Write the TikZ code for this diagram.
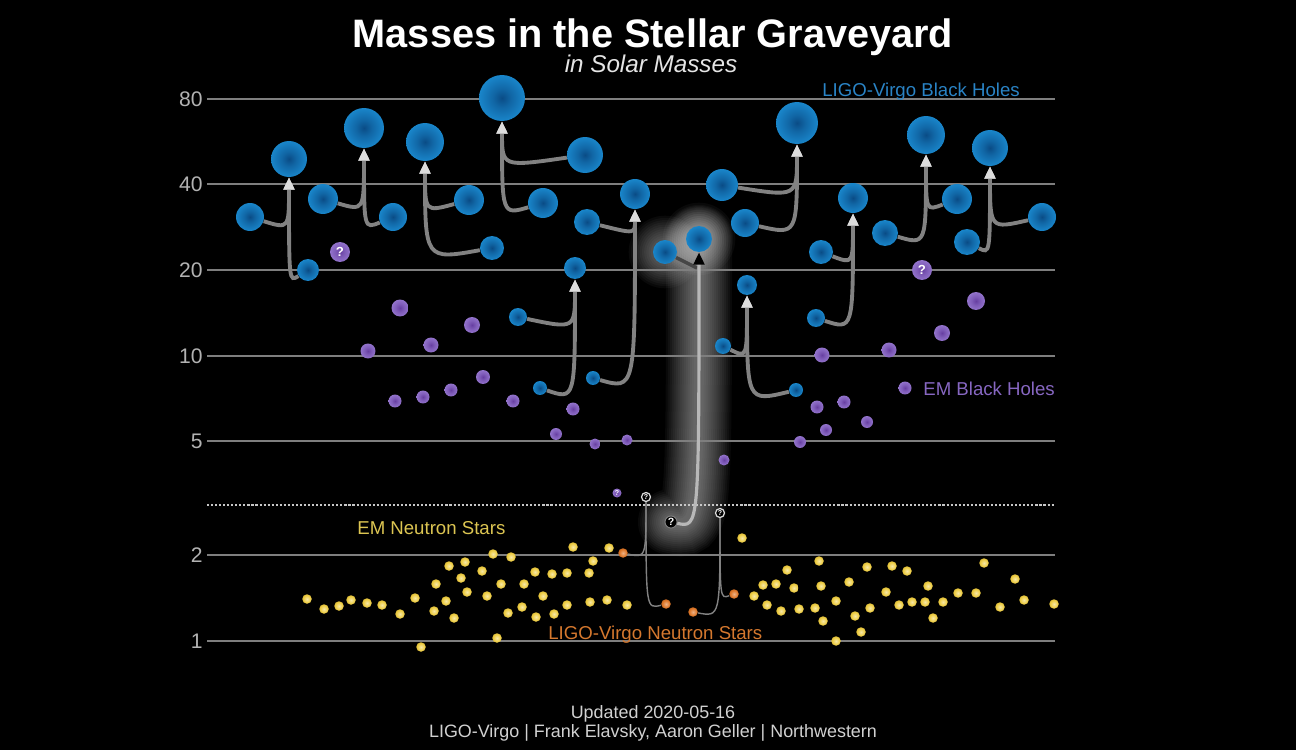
\documentclass[tikz,border=0pt]{standalone}
\usepackage{fontspec}
\setmainfont{Liberation Sans}
\usetikzlibrary{arrows.meta, calc}

\definecolor{lvblue}{HTML}{1E98E0}
\definecolor{lvcore}{HTML}{0A4C86}
\definecolor{lvtext}{HTML}{2A84C6}
\definecolor{emlilac}{HTML}{A286DA}
\definecolor{emcore}{HTML}{673FA2}
\definecolor{emtext}{HTML}{8767C2}
\definecolor{nsgold}{HTML}{EDCB3E}
\definecolor{nstext}{HTML}{DCC552}
\definecolor{nsorange}{HTML}{DD7424}
\definecolor{lvnstext}{HTML}{D5782E}
\definecolor{gridgray}{HTML}{7E7E7E}
\definecolor{trackgray}{HTML}{828282}
\definecolor{tipgray}{HTML}{DCDCDC}
\definecolor{labelgray}{HTML}{B2B2B2}

\pgfdeclareradialshading{lvshade}{\pgfpoint{0bp}{0bp}}{color(0bp)=(lvcore); color(10bp)=(lvcore!65!lvblue); color(34bp)=(lvblue); color(50bp)=(lvblue!85!white)}
\pgfdeclareradialshading{emshade}{\pgfpoint{0bp}{0bp}}{color(0bp)=(emcore); color(12bp)=(emcore!60!emlilac); color(36bp)=(emlilac); color(50bp)=(emlilac!85!white)}
\pgfdeclareradialshading{goldshade}{\pgfpoint{0bp}{0bp}}{color(0bp)=(nsgold!45!white); color(20bp)=(nsgold); color(50bp)=(nsgold!70!black)}
\pgfdeclareradialshading{orangeshade}{\pgfpoint{0bp}{0bp}}{color(0bp)=(nsorange!55!white); color(20bp)=(nsorange); color(50bp)=(nsorange!70!black)}

\pgfdeclarelayer{back}
\pgfdeclarelayer{glow}
\pgfsetlayers{back,glow,main}

\tikzset{
	lvbh/.style = {circle, inner sep = 0pt, minimum size = #1 * 0.04cm, shade, shading = lvshade},
	embh/.style = {circle, inner sep = 0pt, minimum size = #1 * 0.04cm, shade, shading = emshade},
	emns/.style = {circle, inner sep = 0pt, minimum size = 0.19cm, shade, shading = goldshade},
	lvns/.style = {circle, inner sep = 0pt, minimum size = 0.19cm, shade, shading = orangeshade},
	nsrem/.style = {circle, inner sep = 0pt, minimum size = 0.18cm, fill = black, draw = tipgray, line width = 0.7pt, text = white, font = \fontsize{4}{4}\selectfont\bfseries},
	gapobj/.style = {circle, inner sep = 0pt, minimum size = 0.24cm, fill = black, draw = gray, line width = 0.5pt, text = white, font = \fontsize{6}{6}\selectfont\bfseries},
	query/.style = {text = white, font = \fontsize{7.5}{7.5}\selectfont\bfseries},
	merge/.style = {draw = trackgray, line width = 2.2pt, -{Triangle[length = 7pt, width = 6pt, color = tipgray]}},
	glowtrack/.style = {draw = white!72!black, line width = 1.8pt, -{Triangle[length = 7pt, width = 6pt, color = black]}},
	nsmerge/.style = {draw = trackgray, line width = 0.8pt},
	scale line/.style = {draw = gridgray, line width = 1pt},
	scale label/.style = {anchor = east, inner sep = 0pt, text = labelgray, font = \fontsize{12}{12}\selectfont},
	family/.style = {anchor = base west, inner sep = 0pt, font = \fontsize{10.6}{10.6}\selectfont},
	credit/.style = {anchor = base, inner sep = 0pt, text = white!82!black, font = \fontsize{10.2}{10.2}\selectfont}
}

\begin{document}
\begin{tikzpicture}[x = 0.02cm, y = -0.02cm]

	% Definitions

	\def\dip{12}		% How far a track dips below its parent

	% Canvas

	\useasboundingbox (0, 0) rectangle (1296, 750);
	\begin{pgfonlayer}{back}
		\fill [black] (0, 0) rectangle (1296, 750);
	\end{pgfonlayer}

	% Title

	\node [anchor = base, inner sep = 0pt, text = white, font = \fontsize{22.6}{22.6}\selectfont\bfseries] (title) at (653, 48) {Masses in the Stellar Graveyard};
	\node [anchor = base, inner sep = 0pt, text = white!90!black, font = \fontsize{13.8}{13.8}\selectfont\itshape] (subtitle) at (651, 73) {in Solar Masses};

	% Mass scale (logarithmic)

	\foreach \m/\y in {80/99, 40/184, 20/270, 10/356, 5/441, 2/555, 1/641} {
		\draw [scale line] (207, \y) -- (1055, \y);
		\node [scale label] (tick\m) at (203, \y) {\m};
	}
	\draw [draw = white!78!black, line width = 1.2pt, dash pattern = on 1.2pt off 1.1pt] (207, 505) -- (1055, 505);

	% EM black holes

	\foreach \x/\y/\r [count = \i] in {400/308/8.5, 472/325/8, 368/351/7.5, 431/345/7.5, 483/377/7, 395/401/6.5, 423/397/6.5, 451/390/6.5, 513/401/6.5, 573/409/6.5, 556/434/6, 595/444/5.5, 627/440/5.5, 724/460/5.5, 976/301/9, 942/333/8, 889/350/7.5, 822/355/7.5, 905/388/6.5, 817/407/6.5, 844/402/6.5, 867/422/6, 826/430/6, 800/442/6}
		\node [embh = \r] (em\i) at (\x, \y) {};

	\node [embh = 10, query] (emq1) at (340, 252) {?};
	\node [embh = 10, query] (emq2) at (922, 270) {?};
	\node [embh = 4.5, query, font = \fontsize{4}{4}\selectfont\bfseries] (emq3) at (617, 493) {?};

	% EM neutron stars

	\foreach \x/\y [count = \i] in {307/599, 324/609, 339/606, 351/600, 367/603, 382/605, 400/614, 415/598, 421/647, 434/611, 446/601, 436/584, 454/618, 449/566, 465/562, 461/578, 467/592, 482/571, 487/596, 493/554, 511/557, 501/584, 497/638, 508/613, 522/607, 524/584, 535/572, 543/596, 536/617, 552/574, 554/614, 567/573, 567/605, 573/547, 589/573, 593/561, 590/602, 607/600, 609/548, 627/605, 742/538, 754/596, 763/585, 767/605, 776/584, 781/611, 787/570, 794/588, 799/609, 815/608, 819/561, 821/586, 823/621, 836/601, 836/641, 849/582, 855/616, 861/632, 867/567, 870/608, 886/592, 892/566, 899/605, 907/571, 912/602, 925/602, 928/586, 933/618, 943/602, 958/593, 976/593, 984/563, 1000/607, 1015/579, 1024/600, 1054/604}
		\node [emns] (ns\i) at (\x, \y) {};

	% LIGO-Virgo black hole mergers: parents a, b and remnant r

	\node [lvbh = 14] (m1a) at (250, 217) {};
	\node [lvbh = 11] (m1b) at (308, 270) {};
	\node [lvbh = 18] (m1r) at (289, 159) {};

	\node [lvbh = 15] (m2a) at (323, 199) {};
	\node [lvbh = 14] (m2b) at (393, 217) {};
	\node [lvbh = 20] (m2r) at (364, 128) {};

	\node [lvbh = 15] (m3a) at (469, 200) {};
	\node [lvbh = 12] (m3b) at (492, 248) {};
	\node [lvbh = 19] (m3r) at (425, 142) {};

	\node [lvbh = 18] (m4a) at (585, 155) {};
	\node [lvbh = 15] (m4b) at (543, 203) {};
	\node [lvbh = 23] (m4r) at (502, 98) {};

	\node [lvbh = 13] (m5a) at (587, 222) {};
	\node [lvbh = 7] (m5b) at (593, 378) {};
	\node [lvbh = 15] (m5r) at (635, 194) {};

	\node [lvbh = 9] (m6a) at (518, 317) {};
	\node [lvbh = 7] (m6b) at (540, 388) {};
	\node [lvbh = 11] (m6r) at (575, 268) {};

	\node [lvbh = 16] (m8a) at (722, 185) {};
	\node [lvbh = 14] (m8b) at (745, 223) {};
	\node [lvbh = 21] (m8r) at (797, 123) {};

	\node [lvbh = 8] (m9a) at (723, 346) {};
	\node [lvbh = 7] (m9b) at (796, 390) {};
	\node [lvbh = 10] (m9r) at (747, 285) {};

	\node [lvbh = 12] (m10a) at (821, 252) {};
	\node [lvbh = 9] (m10b) at (816, 318) {};
	\node [lvbh = 15] (m10r) at (853, 198) {};

	\node [lvbh = 13] (m11a) at (885, 233) {};
	\node [lvbh = 15] (m11b) at (957, 199) {};
	\node [lvbh = 19] (m11r) at (926, 135) {};

	\node [lvbh = 13] (m12a) at (967, 242) {};
	\node [lvbh = 14] (m12b) at (1042, 217) {};
	\node [lvbh = 18] (m12r) at (990, 148) {};

	\foreach \m in {1, 2, 3, 4, 5, 6, 8, 9, 10, 11, 12} {
		\draw [merge] (m\m a) .. controls ($(m\m a -| m\m r) + (0, \dip)$) .. (m\m r);
		\draw [merge] (m\m b) .. controls ($(m\m b -| m\m r) + (0, \dip)$) .. (m\m r);
	}

	% The mass-gap merger, highlighted

	\node [lvbh = 12] (m7a) at (665, 252) {};
	\node [lvbh = 13] (m7r) at (699, 239) {};
	\node [gapobj] (m7b) at (671, 522) {?};
	\coordinate (m7j) at (697, 268);

	\begin{pgfonlayer}{glow}
		\foreach \w in {66, 62, ..., 10} {
			\draw [white, opacity = 0.035, line width = \w * 0.02cm, line cap = round] (m7b.center) .. controls ($(m7b -| m7r) + (0, 6)$) .. (m7r.center);
			\fill [white, opacity = 0.035] (m7a) circle [radius = \w * 0.011cm];
			\fill [white, opacity = 0.035] (m7r) circle [radius = \w * 0.011cm];
		}
	\end{pgfonlayer}

	\draw [draw = gray!55!black, line width = 2pt] (m7a) -- (m7j);
	\draw [glowtrack] (m7b) .. controls ($(m7b -| m7r) + (0, 6)$) .. (m7r);

	% LIGO-Virgo neutron star mergers

	\node [lvns] (n1a) at (623, 553) {};
	\node [lvns] (n1b) at (666, 604) {};
	\node [nsrem] (n1r) at (646, 497) {?};

	\node [lvns] (n2a) at (734, 594) {};
	\node [lvns] (n2b) at (693, 612) {};
	\node [nsrem] (n2r) at (720, 513) {?};

	\foreach \m in {1, 2} {
		\draw [nsmerge] (n\m a) .. controls ($(n\m a -| n\m r) + (0, 5)$) .. (n\m r);
		\draw [nsmerge] (n\m b) .. controls ($(n\m b -| n\m r) + (0, 5)$) .. (n\m r);
	}

	% Family labels

	\node [family, text = lvtext] (lvbhlabel) at (822, 97) {LIGO-Virgo Black Holes};
	\node [family, text = emtext] (embhlabel) at (923, 395) {EM Black Holes};
	\node [family, text = nstext] (emnslabel) at (357, 534) {EM Neutron Stars};
	\node [family, text = lvnstext] (lvnslabel) at (548, 639) {LIGO-Virgo Neutron Stars};

	% Credits

	\node [credit] (updated) at (653, 718) {Updated 2020-05-16};
	\node [credit] (credits) at (653, 737) {LIGO-Virgo | Frank Elavsky, Aaron Geller | Northwestern};

\end{tikzpicture}
\end{document}
